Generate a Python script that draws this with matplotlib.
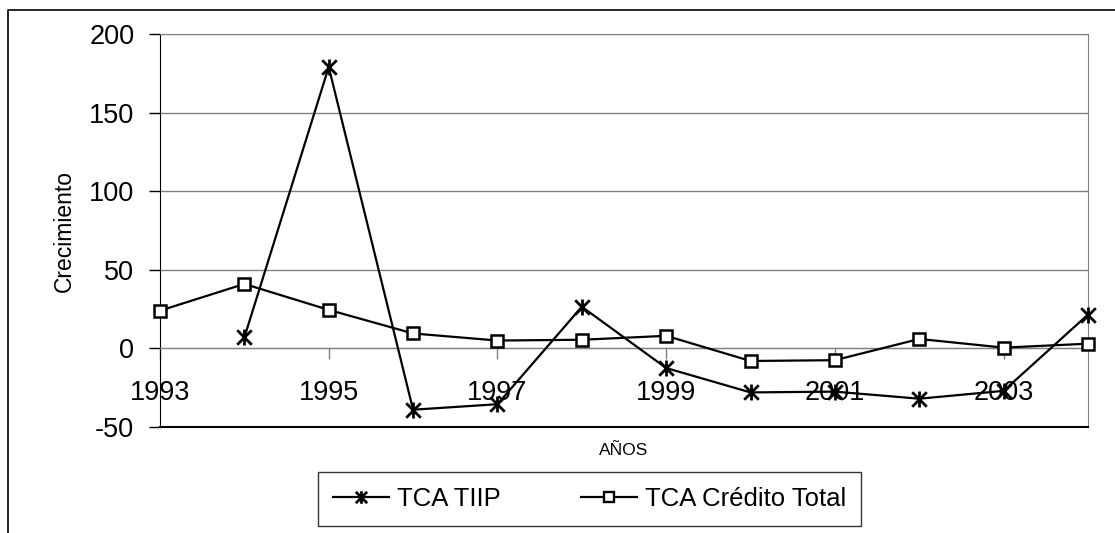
import matplotlib.pyplot as plt
from matplotlib.path import Path
from matplotlib.lines import Line2D

plt.rcParams['font.family'] = ['Liberation Sans', 'DejaVu Sans']
plt.rcParams['axes.unicode_minus'] = False

years = [1993, 1994, 1995, 1996, 1997, 1998, 1999, 2000, 2001, 2002, 2003, 2004]
tiip = [None, 7, 179, -39, -35.5, 26.5, -12.5, -28, -27.5, -32, -27, 21.5]
credito = [24, 41, 24.5, 9.5, 5, 5.5, 8, -8, -7.5, 6, 0.5, 3]
ticks_x = [1993, 1995, 1997, 1999, 2001, 2003]
ticks_y = [-50, 0, 50, 100, 150, 200]

# marcador tipo estrella de Excel: una X con una barra vertical
estrella = Path([(-1, -1), (1, 1), (-1, 1), (1, -1), (0, -1.1), (0, 1.1)],
                [Path.MOVETO, Path.LINETO, Path.MOVETO, Path.LINETO, Path.MOVETO, Path.LINETO])

fig = plt.figure(figsize=(11.15, 5.33), dpi=100)
ax = fig.add_axes([160/1115, 1-427/533, (1088-160)/1115, (427-34)/533])

gris = '#808080'
x_t = [y for y, v in zip(years, tiip) if v is not None]
y_t = [v for v in tiip if v is not None]
ax.plot(x_t, y_t, color='black', lw=1.6, marker=estrella, ms=11.5, mew=2,
        zorder=4, clip_on=False)
ax.plot(years, credito, color='black', lw=1.6, marker='s', ms=8.5, mew=1.8,
        mfc='white', mec='black', zorder=4, clip_on=False)

ax.set_xlim(1993, 2004)
ax.set_ylim(-50, 200)
ax.set_yticks(ticks_y)
ax.set_xticks(ticks_x)
ax.set_xticklabels([str(t) for t in ticks_x])
ax.yaxis.grid(True, color=gris, lw=1)
ax.set_axisbelow(True)

ax.spines['bottom'].set_position(('data', 0))
ax.spines['bottom'].set_color(gris)
ax.spines['top'].set_color(gris)
ax.spines['right'].set_color(gris)
ax.spines['left'].set_color('black')
ax.axhline(-50, color='black', lw=1.5, clip_on=False, zorder=3)

ax.tick_params(axis='y', direction='out', length=8, width=1, labelsize=19.5, pad=10.5)
ax.tick_params(axis='x', direction='out', length=8, width=1, color=gris,
               labelsize=19.5, pad=15)

ax.set_ylabel('Crecimiento', fontsize=16.5)
ax.yaxis.set_label_coords(-0.0905, 0.5)
ax.text(0.5, -0.06, 'AÑOS', transform=ax.transAxes, ha='center', va='center', fontsize=12.5)

# leyenda con marcadores mas pequenos
h1 = Line2D([], [], color='black', lw=1.6, marker=estrella, ms=9, mew=2)
h2 = Line2D([], [], color='black', lw=1.6, marker='s', ms=7.5, mew=1.7, mfc='white', mec='black')
leg = fig.legend([h1, h2], ['TCA TIIP', 'TCA Crédito Total'], loc='center',
                 bbox_to_anchor=(589.5/1115, 1-499/533), ncol=2,
                 fontsize=18.5, frameon=True, fancybox=False, edgecolor='black',
                 handlelength=2.2, handletextpad=0.3, columnspacing=3.1,
                 borderpad=0.6, borderaxespad=0)
leg.get_frame().set_linewidth(1)

# marco exterior del grafico
fig.add_artist(Line2D([8/1115, 8/1115, 1.0], [0, 1-10/533, 1-10/533],
                      color='black', lw=1.2, transform=fig.transFigure))

plt.savefig('out.png', dpi=100)
